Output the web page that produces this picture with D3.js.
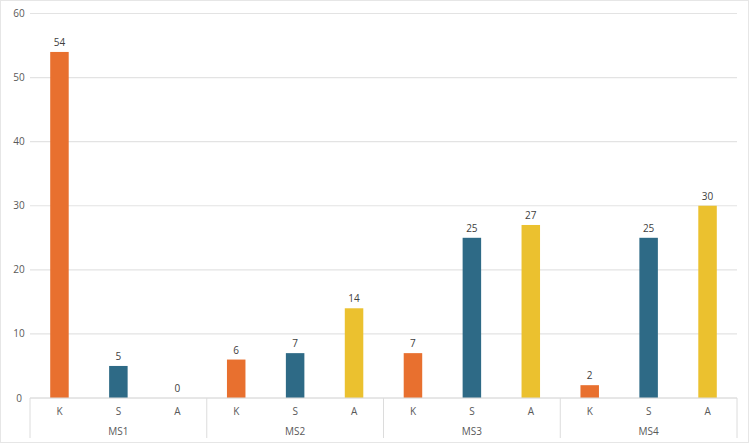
<!DOCTYPE html>
<html>
<head>
<meta charset="utf-8">
<script src="https://cdn.jsdelivr.net/npm/d3@7"></script>
<style>
  body { margin: 0; background: #fff; }
  svg { font-family: "Open Sans", sans-serif; }
</style>
</head>
<body>
<div id="chart"></div>
<script>
// data
const groups = ["MS1", "MS2", "MS3", "MS4"];
const categories = ["K", "S", "A"];
const kValues = [54, 6, 7, 2];
const sValues = [5, 7, 25, 25];
const aValues = [0, 14, 27, 30];
const yTicks = [0, 10, 20, 30, 40, 50, 60];

const colors = {K: "#e8702f", S: "#2e6a86", A: "#ebc12f"};
const series = {K: kValues, S: sValues, A: aValues};

const width = 750, height = 445;
const margin = {top: 13.5, right: 13, bottom: 47, left: 30};

const svg = d3.select("#chart").append("svg")
    .attr("width", width)
    .attr("height", height);

// outer frame
svg.append("rect")
    .attr("x", 0.5).attr("y", 0.5)
    .attr("width", 748).attr("height", 442)
    .attr("fill", "none")
    .attr("stroke", "#e6e6e6");

const x0 = d3.scaleBand()
    .domain(groups)
    .range([margin.left, width - margin.right]);

const x1 = d3.scaleBand()
    .domain(categories)
    .range([0, x0.bandwidth()]);

const y = d3.scaleLinear()
    .domain([0, 60])
    .range([height - margin.bottom, margin.top]);

// gridlines
svg.append("g")
    .selectAll("line")
    .data(yTicks)
    .join("line")
    .attr("x1", margin.left)
    .attr("x2", width - margin.right)
    .attr("y1", d => y(d))
    .attr("y2", d => y(d))
    .attr("stroke", "#e3e3e3")
    .attr("stroke-width", 1.2);

// y labels
svg.append("g")
    .selectAll("text")
    .data(yTicks)
    .join("text")
    .attr("x", 19)
    .attr("y", d => y(d))
    .attr("dy", "0.35em")
    .attr("text-anchor", "middle")
    .attr("font-size", 10)
    .attr("fill", "#595959")
    .text(d => d);

// flatten to bars
const bars = [];
groups.forEach((g, i) => {
    categories.forEach(c => bars.push({group: g, cat: c, value: series[c][i]}));
});

const barWidth = 18.5;

svg.append("g")
    .selectAll("rect")
    .data(bars)
    .join("rect")
    .attr("x", d => x0(d.group) + x1(d.cat) + (x1.bandwidth() - barWidth) / 2)
    .attr("y", d => y(d.value))
    .attr("width", barWidth)
    .attr("height", d => y(0) - y(d.value))
    .attr("fill", d => colors[d.cat]);

// value labels
svg.append("g")
    .selectAll("text")
    .data(bars)
    .join("text")
    .attr("x", d => x0(d.group) + x1(d.cat) + x1.bandwidth() / 2)
    .attr("y", d => y(d.value) - 6)
    .attr("text-anchor", "middle")
    .attr("font-size", 10)
    .attr("fill", "#404040")
    .text(d => d.value);

// category axis
const axisY = y(0);
const axis = svg.append("g");

axis.append("line")
    .attr("x1", margin.left).attr("x2", width - margin.right)
    .attr("y1", axisY).attr("y2", axisY)
    .attr("stroke", "#dcdcdc");

axis.selectAll(".sep")
    .data(groups.concat(["end"]))
    .join("line")
    .attr("class", "sep")
    .attr("x1", d => d === "end" ? width - margin.right : x0(d))
    .attr("x2", d => d === "end" ? width - margin.right : x0(d))
    .attr("y1", axisY)
    .attr("y2", axisY + 40)
    .attr("stroke", "#dcdcdc");

axis.selectAll(".cat")
    .data(bars)
    .join("text")
    .attr("class", "cat")
    .attr("x", d => x0(d.group) + x1(d.cat) + x1.bandwidth() / 2)
    .attr("y", axisY + 17)
    .attr("text-anchor", "middle")
    .attr("font-size", 10)
    .attr("fill", "#595959")
    .text(d => d.cat);

axis.selectAll(".grp")
    .data(groups)
    .join("text")
    .attr("class", "grp")
    .attr("x", d => x0(d) + x0.bandwidth() / 2)
    .attr("y", axisY + 37)
    .attr("text-anchor", "middle")
    .attr("font-size", 10)
    .attr("fill", "#595959")
    .text(d => d);
</script>
</body>
</html>
